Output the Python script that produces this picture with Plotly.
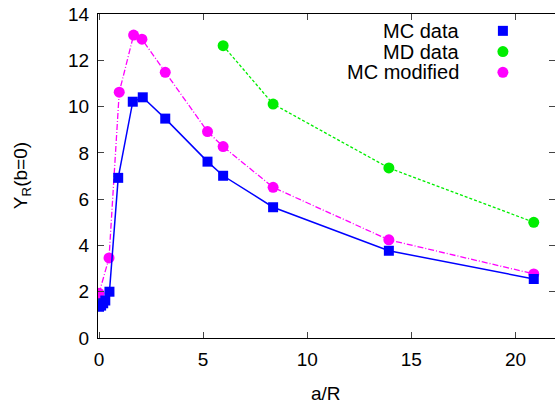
import plotly.graph_objects as go

# ---- data ----
mc_x = [0.0, 0.1, 0.2, 0.3, 0.5, 0.92, 1.62, 2.1, 3.18, 5.21, 5.96, 8.36, 13.92, 20.88]
mc_y = [1.35, 1.4, 1.5, 1.62, 2.0, 6.92, 10.21, 10.40, 9.48, 7.62, 7.01, 5.65, 3.77, 2.55]

md_x = [0.0, None, 5.96, 8.36, 13.92, 20.88]
md_y = [1.67, None, 12.63, 10.11, 7.35, 5.0]

mcm_x = [0.0, 0.48, 0.97, 1.66, 2.06, 3.18, 5.21, 5.96, 8.36, 13.92, 20.88]
mcm_y = [1.93, 3.46, 10.62, 13.09, 12.91, 11.48, 8.92, 8.27, 6.51, 4.24, 2.77]

legend_names = ["MC data", "MD data", "MC modified"]
x_ticks = [0, 5, 10, 15, 20]
y_ticks = [0, 2, 4, 6, 8, 10, 12, 14]
x_title = "a/R"
y_title = "Y<sub>R</sub>(b=0)"

BLUE = "#0000ff"
GREEN = "#00ee00"
MAG = "#ff00ff"
FONT = "Liberation Sans, Arial, sans-serif"

fig = go.Figure()
fig.add_trace(go.Scatter(x=md_x, y=md_y, mode="lines+markers", connectgaps=False,
                         line=dict(color=GREEN, width=1.3, dash="3px,2px"),
                         marker=dict(symbol="circle", size=11, color=GREEN)))
fig.add_trace(go.Scatter(x=mcm_x, y=mcm_y, mode="lines+markers",
                         line=dict(color=MAG, width=1.3, dash="6px,2px,1px,2px"),
                         marker=dict(symbol="circle", size=11, color=MAG)))
fig.add_trace(go.Scatter(x=mc_x, y=mc_y, mode="lines+markers",
                         line=dict(color=BLUE, width=1.5),
                         marker=dict(symbol="square", size=10, color=BLUE)))

# legend key symbols (style only), drawn on a hidden 0..1 overlay axis
leg_y = [0.948, 0.884, 0.820]
leg_sym = ["square", "circle", "circle"]
leg_col = [BLUE, GREEN, MAG]
for yy, s, c in zip(leg_y, leg_sym, leg_col):
    fig.add_trace(go.Scatter(x=[0.886], y=[yy], mode="markers", xaxis="x2", yaxis="y2",
                             marker=dict(symbol=s, size=10 if s == "square" else 11, color=c),
                             hoverinfo="skip"))
annotations = []
for yy, name in zip(leg_y, legend_names):
    annotations.append(dict(x=0.794, y=yy, xref="paper", yref="paper", text=name,
                            showarrow=False, xanchor="right", yanchor="middle",
                            font=dict(size=20, color="black", family=FONT)))
annotations.append(dict(x=0.499, y=-0.170, xref="paper", yref="paper", text=x_title,
                        showarrow=False, xanchor="center", yanchor="middle",
                        font=dict(size=19, color="black", family=FONT)))
annotations.append(dict(x=-0.166, y=0.5, xref="paper", yref="paper", text=y_title,
                        showarrow=False, xanchor="center", yanchor="middle", textangle=-90,
                        font=dict(size=19, color="black", family=FONT)))

fig.update_layout(
    width=555, height=407,
    margin=dict(l=98, r=0, t=14, b=69),
    paper_bgcolor="white", plot_bgcolor="white",
    showlegend=False,
    font=dict(family=FONT, size=19, color="black"),
    annotations=annotations,
    xaxis=dict(range=[-0.05, 21.9], tickvals=x_ticks, ticks="inside", ticklen=6,
               showline=True, linecolor="black", linewidth=1, mirror="ticks",
               showgrid=False, zeroline=False, ticklabelstandoff=4),
    yaxis=dict(range=[0, 14], tickvals=y_ticks, ticks="inside", ticklen=6,
               showline=True, linecolor="black", linewidth=1,
               showgrid=False, zeroline=False, ticklabelstandoff=4),
    yaxis3=dict(range=[0, 14], overlaying="y", side="right", tickvals=y_ticks,
                ticks="inside", ticklen=6, showticklabels=False, showline=False,
                showgrid=False, zeroline=False),
    xaxis2=dict(range=[0, 1], overlaying="x", visible=False),
    yaxis2=dict(range=[0, 1], overlaying="y", visible=False),
)
# dummy trace to activate right tick axis
fig.add_trace(go.Scatter(x=[None], y=[None], yaxis="y3", showlegend=False))

fig.write_html("out.html")
